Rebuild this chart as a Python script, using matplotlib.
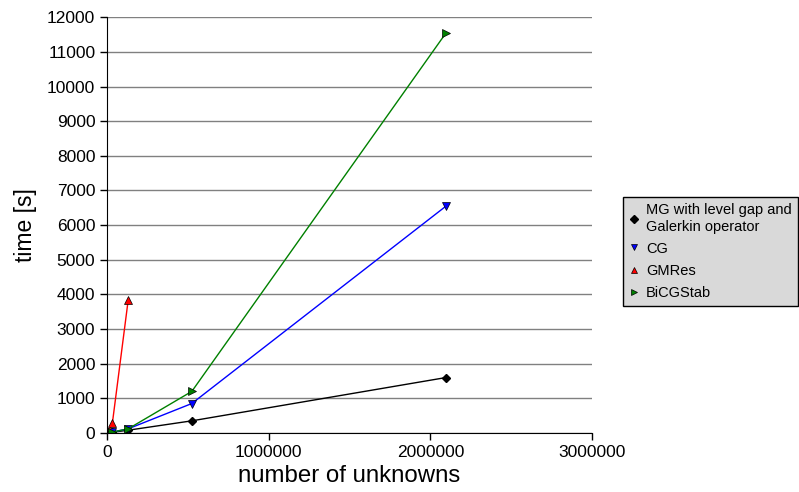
import matplotlib
matplotlib.use("Agg")
import matplotlib.pyplot as plt

plt.rcParams['font.family'] = ['Liberation Sans', 'DejaVu Sans']

# problem sizes (number of unknowns)
n_mg = [8, 32, 128, 512, 2048, 8192, 32768, 131072, 524288, 2097152]
t_mg = [0, 0, 0, 0, 1, 4, 20, 80, 350, 1600]

n_cg = [8, 32, 128, 512, 2048, 8192, 32768, 131072, 524288, 2097152]
t_cg = [0, 0, 0, 0, 1, 5, 25, 120, 850, 6550]

n_gmres = [8, 32, 128, 512, 2048, 8192, 32768, 131072]
t_gmres = [0, 0, 0, 0, 2, 20, 280, 3850]

n_bicg = [8, 32, 128, 512, 2048, 8192, 32768, 131072, 524288, 2097152]
t_bicg = [0, 0, 0, 0, 1, 5, 25, 120, 1200, 11550]

labels = ["MG with level gap and\nGalerkin operator", "CG", "GMRes", "BiCGStab"]

fig = plt.figure(figsize=(7.99, 4.92), dpi=100)
ax = fig.add_axes([0.134, 0.120, 0.607, 0.845])

ax.plot(n_mg, t_mg, color='black', marker='D', markersize=4.5, lw=1, label=labels[0])
ax.plot(n_cg, t_cg, color='blue', marker='v', markersize=6, lw=1,
        markeredgecolor='black', markeredgewidth=0.5, label=labels[1])
ax.plot(n_gmres, t_gmres, color='red', marker='^', markersize=6, lw=1,
        markeredgecolor='black', markeredgewidth=0.5, label=labels[2])
ax.plot(n_bicg, t_bicg, color='green', marker='>', markersize=6, lw=1,
        markeredgecolor='black', markeredgewidth=0.5, label=labels[3])

ax.set_xlim(0, 3000000)
ax.set_ylim(0, 12000)
ax.set_xticks([0, 1000000, 2000000, 3000000])
ax.set_xticklabels(['0', '1000000', '2000000', '3000000'])
ax.set_yticks(range(0, 12001, 1000))
ax.yaxis.grid(True, color='#808080', lw=1)
ax.set_axisbelow(True)
for s in ['top', 'right']:
    ax.spines[s].set_visible(False)
ax.tick_params(labelsize=12.5, direction='out', length=5, width=1)

ax.set_xlabel('number of unknowns', fontsize=17.3, labelpad=4)
ax.set_ylabel('time [s]', fontsize=16.5, labelpad=7)

leg = fig.legend(loc='upper left', bbox_to_anchor=(0.780, 0.600), fontsize=10.5,
                 frameon=True, fancybox=False, edgecolor='black', facecolor='#d9d9d9',
                 framealpha=1, handlelength=0.6, handletextpad=0.5, borderpad=0.45,
                 borderaxespad=0, labelspacing=0.55, markerscale=0.8)
for h in leg.legend_handles:
    h.set_linestyle('none')
leg.get_frame().set_linewidth(1)

fig.savefig('out.png', dpi=100)
